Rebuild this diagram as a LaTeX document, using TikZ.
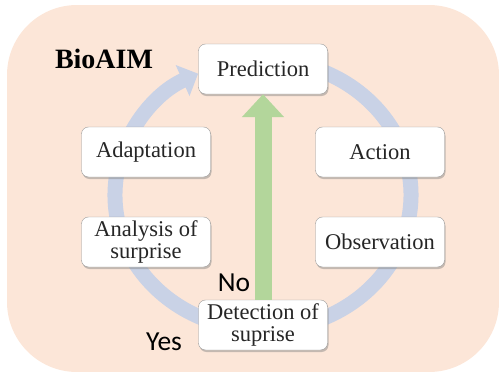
\documentclass[tikz,border=0pt]{standalone}
\usepackage{fontspec}
\setmainfont{Liberation Serif}
\newfontfamily\answerfont{Carlito}
\usetikzlibrary{arrows.meta,shadows}
\definecolor{peach}{HTML}{FCE6D8}
\definecolor{ringblue}{HTML}{C9D2E6}
\definecolor{leafgreen}{HTML}{B3D69B}
\begin{document}
\begin{tikzpicture}[x=1pt,y=-1pt,
    stage/.style={draw=black!40,fill=white,rounded corners=7pt,
      minimum width=129pt,minimum height=50pt,align=center,text=black!85,
      font=\fontsize{22.5}{22}\selectfont,
      drop shadow={shadow xshift=1pt,shadow yshift=-2pt,opacity=.45}},
    answer/.style={font=\answerfont\fontsize{27.5}{28}\selectfont}]
  \useasboundingbox (0,0) rectangle (499,372);
  \fill[peach,rounded corners=70pt] (7,5) rectangle (499,372);
  % cycle ring
  \draw[ringblue,line width=15pt,-{Triangle[width=33pt,length=17pt]}]
    ([shift={(263,195)}]-80:148 and 135)
    arc[start angle=-80,end angle=244,x radius=148,y radius=135];
  \node[stage] (pred) at (263,69) {Prediction};
  \node[stage] (act) at (380,152) {Action};
  \node[stage] (obs) at (380,242) {Observation};
  \node[stage] (det) at (263,325) {Detection of\\suprise};
  \node[stage] (ana) at (146,242) {Analysis of\\surprise};
  \node[stage] (adapt) at (146,152) {Adaptation};
  \draw[leafgreen,line width=17pt,-{Triangle[width=41pt,length=23pt]}] (det) -- (pred);
  \node[font=\bfseries\fontsize{28}{30}\selectfont] (title) at (104,59) {BioAIM};
  \node[answer] (no) at (234,283) {No};
  \node[answer] (yes) at (164,342) {Yes};
\end{tikzpicture}
\end{document}
